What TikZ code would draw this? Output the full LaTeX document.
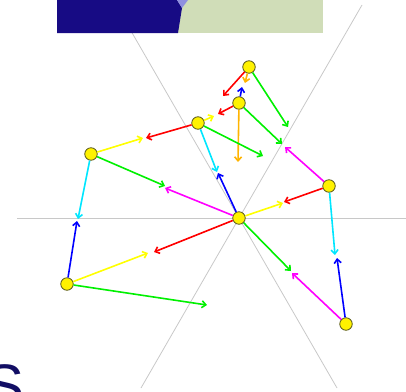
\documentclass[tikz,border=0pt]{standalone}
\usepackage{fontspec}
\setsansfont{Liberation Sans}
\usetikzlibrary{arrows.meta}
\definecolor{axisgray}{RGB}{200,200,200}
\definecolor{boxblue}{RGB}{23,11,132}
\definecolor{boxgreen}{RGB}{208,221,184}
\definecolor{boxpurple}{RGB}{143,143,224}
\definecolor{navy}{RGB}{18,14,100}
\definecolor{vred}{RGB}{255,0,0}
\definecolor{vgreen}{RGB}{0,240,0}
\definecolor{vblue}{RGB}{0,0,255}
\definecolor{vcyan}{RGB}{0,230,255}
\definecolor{vmag}{RGB}{255,0,255}
\definecolor{vyel}{RGB}{255,255,0}
\definecolor{vorange}{RGB}{255,180,0}
\definecolor{dotline}{RGB}{90,90,30}
\tikzset{
  axisline/.style={draw=axisgray, line width=0.8pt},
  vec/.style={line width=1.6pt, -{Straight Barb[length=4pt,width=7pt]}},
  dot/.style={circle, inner sep=0pt, minimum size=12.5pt, fill=yellow, draw=dotline, line width=0.8pt},
}
\begin{document}
\begin{tikzpicture}[x=1pt,y=-1pt]
\useasboundingbox (0,0) rectangle (406,391);
\clip (0,0) rectangle (406,391);
% axes
\draw[axisline] (17,218) -- (406,218);
\draw[axisline] (116,5) -- (337,388);
\draw[axisline] (362,5) -- (141,388);
% image box
\fill[boxgreen] (57,0) rectangle (323,33);
\fill[boxblue] (57,0) -- (177,0) -- (182,8) -- (178,33) -- (57,33) -- cycle;
\fill[boxpurple] (177,0) -- (188,0) -- (182,8) -- cycle;
% big letter
\node[text=navy, font=\sffamily\fontsize{60}{60}\selectfont, inner sep=0pt, anchor=base] (bigs) at (5,406) {S};
% nodes
\node[dot] (n1) at (249,67) {};
\node[dot] (n2) at (239,103) {};
\node[dot] (n3) at (198,123) {};
\node[dot] (n4) at (91,154) {};
\node[dot] (c) at (239,218) {};
\node[dot] (n5) at (329,186) {};
\node[dot] (n6) at (67,284) {};
\node[dot] (n7) at (346,324) {};
% tips
\coordinate (t1r) at (223,96);
\coordinate (t1o) at (245,83);
\coordinate (t1g) at (288,127);
\coordinate (t2b) at (242,87);
\coordinate (t2r) at (218,114);
\coordinate (t2o) at (238,162);
\coordinate (t2g) at (282,144);
\coordinate (t3y) at (214,116);
\coordinate (t3r) at (146,138);
\coordinate (t3c) at (217,172);
\coordinate (t3g) at (263,156);
\coordinate (t4y) at (143,138);
\coordinate (t4g) at (165,186);
\coordinate (t4c) at (78,219);
\coordinate (tcm) at (165,188);
\coordinate (tcb) at (218,173);
\coordinate (tcy) at (283,203);
\coordinate (tcr) at (154,252);
\coordinate (tcg) at (291,271);
\coordinate (t5m) at (285,147);
\coordinate (t5r) at (284,202);
\coordinate (t5c) at (335,255);
\coordinate (t6b) at (77,221);
\coordinate (t6y) at (148,253);
\coordinate (t6g) at (207,305);
\coordinate (t7m) at (292,273);
\coordinate (t7b) at (337,258);
% vectors
\draw[vec, vred] (n1) -- (t1r);
\draw[vec, vorange] (n1) -- (t1o);
\draw[vec, vgreen] (n1) -- (t1g);
\draw[vec, vblue] (n2) -- (t2b);
\draw[vec, vred] (n2) -- (t2r);
\draw[vec, vorange] (n2) -- (t2o);
\draw[vec, vgreen] (n2) -- (t2g);
\draw[vec, vyel] (n3) -- (t3y);
\draw[vec, vred] (n3) -- (t3r);
\draw[vec, vcyan] (n3) -- (t3c);
\draw[vec, vgreen] (n3) -- (t3g);
\draw[vec, vyel] (n4) -- (t4y);
\draw[vec, vgreen] (n4) -- (t4g);
\draw[vec, vcyan] (n4) -- (t4c);
\draw[vec, vmag] (c) -- (tcm);
\draw[vec, vblue] (c) -- (tcb);
\draw[vec, vyel] (c) -- (tcy);
\draw[vec, vred] (c) -- (tcr);
\draw[vec, vgreen] (c) -- (tcg);
\draw[vec, vmag] (n5) -- (t5m);
\draw[vec, vred] (n5) -- (t5r);
\draw[vec, vcyan] (n5) -- (t5c);
\draw[vec, vblue] (n6) -- (t6b);
\draw[vec, vyel] (n6) -- (t6y);
\draw[vec, vgreen] (n6) -- (t6g);
\draw[vec, vmag] (n7) -- (t7m);
\draw[vec, vblue] (n7) -- (t7b);
\end{tikzpicture}
\end{document}
